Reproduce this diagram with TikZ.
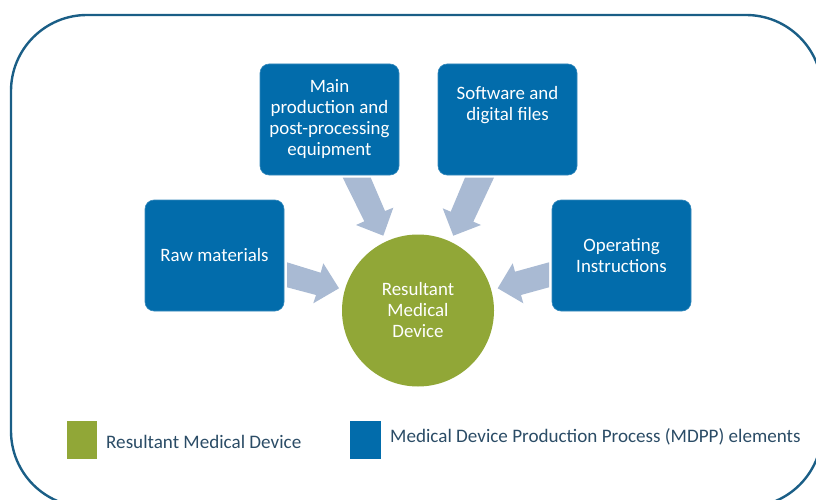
\documentclass[tikz,border=0pt]{standalone}
\usepackage{fontspec}
\setmainfont{Carlito}
\usetikzlibrary{calc}
\definecolor{boxblue}{HTML}{026CAB}
\definecolor{devgreen}{HTML}{91A737}
\definecolor{arrowblue}{HTML}{A9BAD3}
\definecolor{framecol}{HTML}{1A5E86}
\definecolor{legendtext}{HTML}{2B4C66}
\tikzset{
  elementbox/.style={draw=boxblue!80!white,line width=0.6pt,fill=boxblue,rounded corners=9pt,minimum width=139pt,minimum height=111pt,inner sep=0pt,text=white,align=center,font=\fontsize{18.9}{21}\selectfont},
  devicecircle/.style={circle,fill=devgreen,minimum size=152pt,inner sep=0pt,text=white,align=center,font=\fontsize{18.9}{21}\selectfont},
  blockarrow/.style={fill=arrowblue,draw=none},
  legendswatch/.style={minimum width=30.5pt,minimum height=38pt,inner sep=0pt},
  legendlabel/.style={anchor=west,inner sep=0pt,text=legendtext,font=\fontsize{19.1}{22}\selectfont},
}
\begin{document}
\begin{tikzpicture}[x=1pt,y=-1pt]
\useasboundingbox (0,0) rectangle (816,500);
\clip (0,0) rectangle (816,500);
\draw[framecol,line width=2.4pt,rounded corners=76pt] (11,15) rectangle (822,507);
\node[elementbox] (raw) at (214.5,255.5) {Raw materials};
\node[elementbox] (main) at (329.5,119.5) {Main\\production and\\post-processing\\equipment};
\node[elementbox] (soft) at (507.5,119.5) {Software and\\digital files\\[11pt]};
\node[elementbox] (oper) at (621.5,255.5) {Operating\\Instructions};
\node[devicecircle] (res) at (418,310.5) {Resultant\\Medical\\Device};
\fill[blockarrow] ($(main.south)+(13.2,2.3)$) -- ($(main.south)+(41.2,2.3)$) -- ($(res.center)+(-33,-99.5)$) -- ($(res.center)+(-24.7,-102.8)$) -- ($(res.center)+(-34.7,-74.8)$) -- ($(res.center)+(-62,-85.5)$) -- ($(res.center)+(-53.7,-89.2)$) -- cycle;
\fill[blockarrow] ($(soft.south)+(-42.5,2.3)$) -- ($(soft.south)+(-13.5,2.3)$) -- ($(res.center)+(55.3,-88.8)$) -- ($(res.center)+(63,-85.5)$) -- ($(res.center)+(35.3,-74.8)$) -- ($(res.center)+(24.7,-102.2)$) -- ($(res.center)+(32.7,-98.8)$) -- cycle;
\fill[blockarrow] ($(raw.east)+(2.7,6.8)$) -- ($(res.center)+(-97.3,-37.8)$) -- ($(res.center)+(-94.7,-47.2)$) -- ($(res.center)+(-79,-22.2)$) -- ($(res.center)+(-104.7,-7.2)$) -- ($(res.center)+(-102,-15.5)$) -- ($(raw.east)+(2.7,31.8)$) -- cycle;
\fill[blockarrow] ($(oper.west)+(-2.7,6.8)$) -- ($(res.center)+(97,-38.8)$) -- ($(res.center)+(94.7,-47.2)$) -- ($(res.center)+(79.7,-22.2)$) -- ($(res.center)+(105.3,-7.2)$) -- ($(res.center)+(103,-15.5)$) -- ($(oper.west)+(-2.7,31.8)$) -- cycle;
\node[legendswatch,fill=devgreen] (swgreen) at (81.75,440) {};
\node[legendswatch,fill=boxblue] (swblue) at (365.25,440) {};
\node[legendlabel] (lgreen) at (106,442) {Resultant Medical Device};
\node[legendlabel] (lblue) at (390,437) {Medical Device Production Process (MDPP) elements};
\end{tikzpicture}
\end{document}
